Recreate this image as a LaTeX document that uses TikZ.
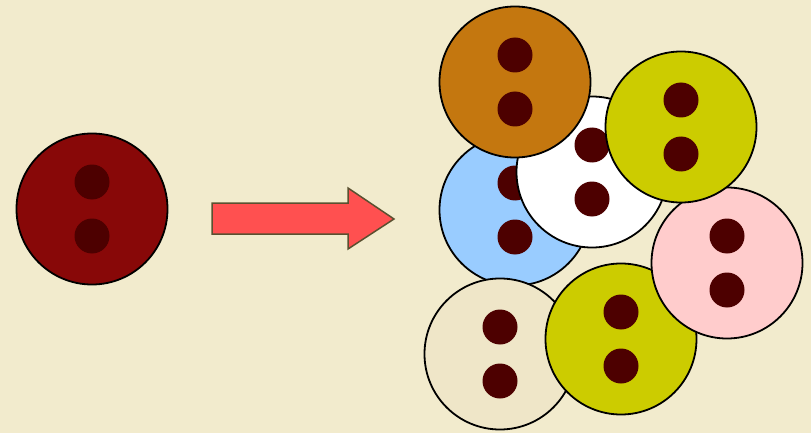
\documentclass[tikz,border=0pt]{standalone}
\definecolor{bg}{HTML}{F2EBCD}
\definecolor{darkred}{HTML}{880808}
\definecolor{dotc}{HTML}{4D0000}
\definecolor{lblue}{HTML}{99CCFF}
\definecolor{orangec}{HTML}{C4770F}
\definecolor{yel}{HTML}{CCCC00}
\definecolor{pinkc}{HTML}{FFCCCC}
\definecolor{beigec}{HTML}{EFE6C8}
\definecolor{arrowfill}{HTML}{FF5050}
\definecolor{arrowline}{HTML}{5A5030}
\tikzset{
  button/.style={circle, draw=black, line width=1.8pt, minimum size=151pt, inner sep=0pt},
  hole/.style={circle, fill=dotc, minimum size=35pt, inner sep=0pt}
}
\newcommand{\mybutton}[4]{%
  \node[button, fill=#4] (#1) at (#2,#3) {};
  \node[hole] (#1a) at ([yshift=27pt]#1.center) {};
  \node[hole] (#1b) at ([yshift=-27pt]#1.center) {};
}
\begin{document}
\begin{tikzpicture}[x=1pt,y=-1pt]
\fill[bg] (0,0) rectangle (811,433);
\useasboundingbox (0,0) rectangle (811,433);
% left button
\mybutton{left}{92}{209}{darkred}
% arrow
\draw[fill=arrowfill, draw=arrowline, line width=1.5pt, line join=miter]
  (212,203) -- (348,203) -- (348,188) -- (394,219) -- (348,249) -- (348,234) -- (212,234) -- cycle;
% right group
\mybutton{blue}{515}{210}{lblue}
\mybutton{white}{592}{172}{white}
\mybutton{orange}{515}{82}{orangec}
\mybutton{beige}{500}{354}{beigec}
\mybutton{yelb}{621}{339}{yel}
\mybutton{pink}{727}{263}{pinkc}
\mybutton{yela}{681}{127}{yel}
\end{tikzpicture}
\end{document}
